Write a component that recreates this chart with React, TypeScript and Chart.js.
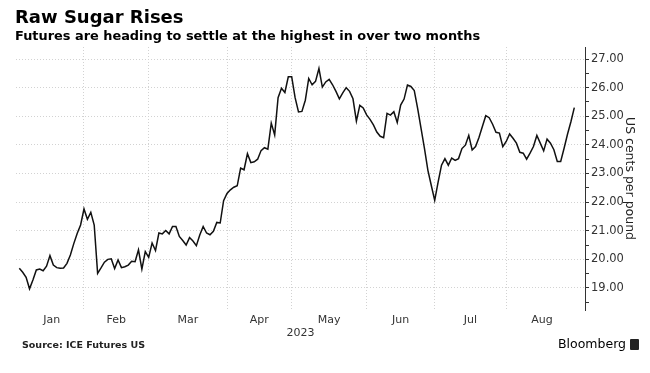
import React, { useEffect, useRef } from "react";
import { Chart, registerables } from "chart.js";

Chart.register(...registerables);

// ---- data ----
const titleText = "Raw Sugar Rises";
const subtitleText = "Futures are heading to settle at the highest in over two months";
const sourceText = "Source: ICE Futures US";
const brandText = "Bloomberg";
const yAxisTitle = "US cents per pound";
const yearLabel = "2023";

const monthLabels = ["Jan", "Feb", "Mar", "Apr", "May", "Jun", "Jul", "Aug"];
// trading sessions shown in each month
const tradingDaysPerMonth = [20, 19, 23, 19, 22, 20, 21, 20];

const yTickValues = [19, 20, 21, 22, 23, 24, 25, 26, 27];

// daily settle, US cents per pound
const prices = [
  19.69, 19.55, 19.37, 18.97, 19.28, 19.63, 19.66, 19.6, 19.76, 20.13,
  19.8, 19.71, 19.69, 19.7, 19.86, 20.15, 20.55, 20.9, 21.2, 21.76,
  21.4, 21.64, 21.2, 19.51, 19.7, 19.9, 20.0, 20.02, 19.68, 19.98,
  19.71, 19.74, 19.8, 19.93, 19.92, 20.33, 19.66, 20.27, 20.07, 20.57,
  20.31, 20.92, 20.89, 21.01, 20.89, 21.15, 21.15, 20.8, 20.66, 20.5,
  20.76, 20.64, 20.48, 20.85, 21.15, 20.92, 20.86, 20.98, 21.29, 21.27,
  22.05, 22.3, 22.43, 22.52, 22.57, 23.19, 23.13, 23.69, 23.38, 23.41,
  23.5, 23.8, 23.9, 23.85, 24.76, 24.35, 25.65, 25.98, 25.83, 26.38,
  26.38, 25.65, 25.15, 25.17, 25.56, 26.32, 26.1, 26.22, 26.67, 26.02,
  26.2, 26.29, 26.1, 25.87, 25.61, 25.82, 26.0, 25.87, 25.61, 24.83,
  25.38, 25.29, 25.05, 24.89, 24.7, 24.45, 24.3, 24.25, 25.1, 25.04,
  25.16, 24.78, 25.39, 25.6, 26.09, 26.04, 25.9, 25.27, 24.57, 23.87,
  23.11, 22.58, 22.06, 22.7, 23.29, 23.52, 23.29, 23.54, 23.46, 23.52,
  23.87, 23.99, 24.33, 23.82, 23.94, 24.26, 24.64, 25.02, 24.95, 24.72,
  24.44, 24.41, 23.94, 24.12, 24.38, 24.23, 24.06, 23.74, 23.71, 23.5,
  23.71, 23.94, 24.33, 24.06, 23.79, 24.2, 24.06, 23.83, 23.42, 23.42,
  23.88, 24.37, 24.81, 25.3,
];

export default function App() {
  const canvasRef = useRef<HTMLCanvasElement | null>(null);

  useEffect(() => {
    const canvas = canvasRef.current;
    if (!canvas) return;

    // month boundaries (grid lines) and month label centres, in session index units
    const bounds: number[] = [];
    let cum = 0;
    tradingDaysPerMonth.forEach((d, k) => {
      cum += d;
      if (k < tradingDaysPerMonth.length - 1) bounds.push(cum - 1);
    });
    const edges = [0, ...bounds, prices.length];
    const centers = monthLabels.map((_, k) => (edges[k] + edges[k + 1]) / 2);
    const labelAt = new Map<number, string>();
    centers.forEach((c, k) => labelAt.set(c, monthLabels[k]));
    const boundSet = new Set<number>(bounds);
    const xTickVals = [...bounds, ...centers].sort((a, b) => a - b);

    const yTickAll: number[] = [];
    for (let v = yTickValues[0] - 0.5; v <= yTickValues[yTickValues.length - 1] + 0.001; v += 0.5) {
      yTickAll.push(Math.round(v * 2) / 2);
    }
    const ySet = new Set<number>(yTickValues);

    const fontFamily = '"DejaVu Sans", sans-serif';

    const chart = new Chart(canvas, {
      type: "line",
      data: {
        datasets: [
          {
            data: prices.map((v, i) => ({ x: i, y: v })),
            borderColor: "#111111",
            borderWidth: 1.5,
            pointRadius: 0,
            tension: 0,
            fill: false,
          },
        ],
      },
      options: {
        responsive: false,
        maintainAspectRatio: false,
        devicePixelRatio: 1,
        animation: false,
        layout: { padding: { top: 47, left: 16, right: 0, bottom: 33 } },
        plugins: {
          legend: { display: false },
          tooltip: { enabled: false },
          title: { display: false },
        },
        scales: {
          x: {
            type: "linear",
            min: -0.97,
            max: 166.14,
            afterBuildTicks: (scale: any) => {
              scale.ticks = xTickVals.map((v) => ({ value: v }));
            },
            afterFit: (scale: any) => {
              scale.height = 30;
            },
            ticks: {
              autoSkip: false,
              maxRotation: 0,
              padding: 4,
              color: "#333333",
              font: { family: fontFamily, size: 11 },
              callback: (value: any) => labelAt.get(Number(value)) ?? "",
            },
            grid: {
              drawTicks: false,
              lineWidth: 1,
              color: (ctx: any) =>
                ctx.tick && boundSet.has(ctx.tick.value) ? "#d2d2d2" : "rgba(0,0,0,0)",
            },
            border: { display: false, dash: [1, 2] },
            title: {
              display: true,
              text: yearLabel,
              color: "#333333",
              font: { family: fontFamily, size: 11 },
              padding: { top: 0, bottom: 0 },
            },
          },
          y: {
            type: "linear",
            position: "right",
            min: 18.23,
            max: 27.42,
            afterBuildTicks: (scale: any) => {
              scale.ticks = yTickAll.map((v) => ({ value: v }));
            },
            afterFit: (scale: any) => {
              scale.width = 65;
            },
            ticks: {
              autoSkip: false,
              padding: 2,
              color: "#333333",
              font: { family: fontFamily, size: 11.5 },
              callback: (value: any) => (ySet.has(Number(value)) ? Number(value).toFixed(2) : ""),
            },
            grid: {
              drawTicks: true,
              tickLength: 4,
              tickColor: "#333333",
              lineWidth: 1,
              color: (ctx: any) =>
                ctx.tick && ySet.has(ctx.tick.value) ? "#d2d2d2" : "rgba(0,0,0,0)",
            },
            border: { display: true, color: "#333333", width: 1, dash: [1, 2] },
            title: {
              display: true,
              text: yAxisTitle,
              color: "#222222",
              font: { family: fontFamily, size: 12.5 },
              padding: { top: 13, bottom: 0 },
            },
          },
        },
      },
    });

    return () => chart.destroy();
  }, []);

  const font = '"DejaVu Sans", sans-serif';
  return (
    <div
      style={{
        position: "fixed",
        left: 0,
        top: 0,
        width: 650,
        height: 373,
        background: "#ffffff",
        overflow: "hidden",
        fontFamily: font,
      }}
    >
      <canvas
        ref={canvasRef}
        width={650}
        height={373}
        style={{ position: "absolute", left: 0, top: 0, width: 650, height: 373 }}
      />
      <div
        style={{
          position: "absolute",
          left: 15,
          top: 8,
          fontSize: 18,
          lineHeight: "18px",
          fontWeight: 700,
          color: "#000",
          whiteSpace: "nowrap",
        }}
      >
        {titleText}
      </div>
      <div
        style={{
          position: "absolute",
          left: 15,
          top: 29,
          fontSize: 12.9,
          lineHeight: "13px",
          fontWeight: 700,
          color: "#000",
          whiteSpace: "nowrap",
        }}
      >
        {subtitleText}
      </div>
      <div
        style={{
          position: "absolute",
          left: 22,
          top: 340,
          fontSize: 9.5,
          lineHeight: "10px",
          fontWeight: 700,
          color: "#222",
          whiteSpace: "nowrap",
        }}
      >
        {sourceText}
      </div>
      <div
        style={{
          position: "absolute",
          left: 558,
          top: 337,
          fontSize: 12.5,
          lineHeight: "14px",
          fontWeight: 500,
          color: "#000",
          whiteSpace: "nowrap",
          display: "flex",
          alignItems: "center",
        }}
      >
        <span>{brandText}</span>
        <span
          style={{
            display: "inline-block",
            width: 9,
            height: 11,
            marginLeft: 4,
            background: "#222",
            borderRadius: 1,
          }}
        />
      </div>
    </div>
  );
}
